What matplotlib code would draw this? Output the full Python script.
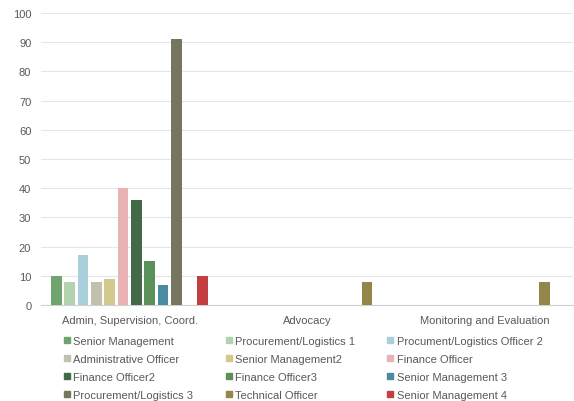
import matplotlib
matplotlib.use("Agg")
import matplotlib.pyplot as plt
import numpy as np
from matplotlib.patches import Patch

plt.rcParams["font.family"] = ["Liberation Sans", "DejaVu Sans"]

categories = ["Admin, Supervision, Coord.", "Advocacy", "Monitoring and Evaluation"]
series_names = [
    "Senior Management", "Procurement/Logistics 1", "Procument/Logistics Officer 2",
    "Administrative Officer", "Senior Management2", "Finance Officer",
    "Finance Officer2", "Finance Officer3", "Senior Management 3",
    "Procurement/Logistics 3", "Technical Officer", "Senior Management 4",
]
values = [
    [10, 0, 0],
    [8, 0, 0],
    [17, 0, 0],
    [8, 0, 0],
    [9, 0, 0],
    [40, 0, 0],
    [36, 0, 0],
    [15, 0, 0],
    [7, 0, 0],
    [91, 0, 0],
    [0, 8, 8],
    [10, 0, 0],
]
colors = [
    "#6fa46f", "#b2d3ae", "#a8cfda", "#c1c1ae", "#d3c98f", "#e9b3b5",
    "#436a47", "#5b905b", "#4a8ba1", "#767660", "#948548", "#c33f3f",
]
yticks = list(range(0, 101, 10))

fig = plt.figure(figsize=(5.74, 4.02), dpi=100)
ax = fig.add_axes([41 / 574, 96 / 402, 532 / 574, 292 / 402])

n = len(series_names)
group_w = 0.9
bw = group_w / n
x = np.arange(len(categories))
for i, (name, vals, c) in enumerate(zip(series_names, values, colors)):
    offs = (i - (n - 1) / 2) * bw
    ax.bar(x + offs, vals, width=bw * 0.8, color=c, label=name, zorder=3)

ax.set_xlim(-0.5, len(categories) - 0.5)
ax.set_ylim(0, 100)
ax.set_yticks(yticks)
ax.set_xticks(x)
ax.set_xticklabels(categories)
ax.grid(axis="y", color="#e6e6e6", linewidth=0.8, zorder=0)
for s in ["top", "right", "left"]:
    ax.spines[s].set_visible(False)
ax.spines["bottom"].set_color("#d0d0d0")
ax.tick_params(axis="both", length=0, colors="#595959", labelsize=8)
ax.tick_params(axis="y", pad=7)
ax.tick_params(axis="x", pad=7)

# legend laid out row by row in three columns
ncol = 3
nrow = int(np.ceil(n / ncol))
order = [r * ncol + c for c in range(ncol) for r in range(nrow)]
handles = [Patch(color=colors[k]) for k in order]
labels = [series_names[k] for k in order]
leg = fig.legend(handles, labels, ncol=ncol, loc="upper left",
                 bbox_to_anchor=(64 / 574, 1 - 337 / 402), frameon=False,
                 fontsize=8, handlelength=0.55, handleheight=0.55,
                 handletextpad=0.3, columnspacing=2.9, labelspacing=0.72,
                 borderaxespad=0, borderpad=0)
for t in leg.get_texts():
    t.set_color("#595959")

fig.savefig("out.png", dpi=100)
